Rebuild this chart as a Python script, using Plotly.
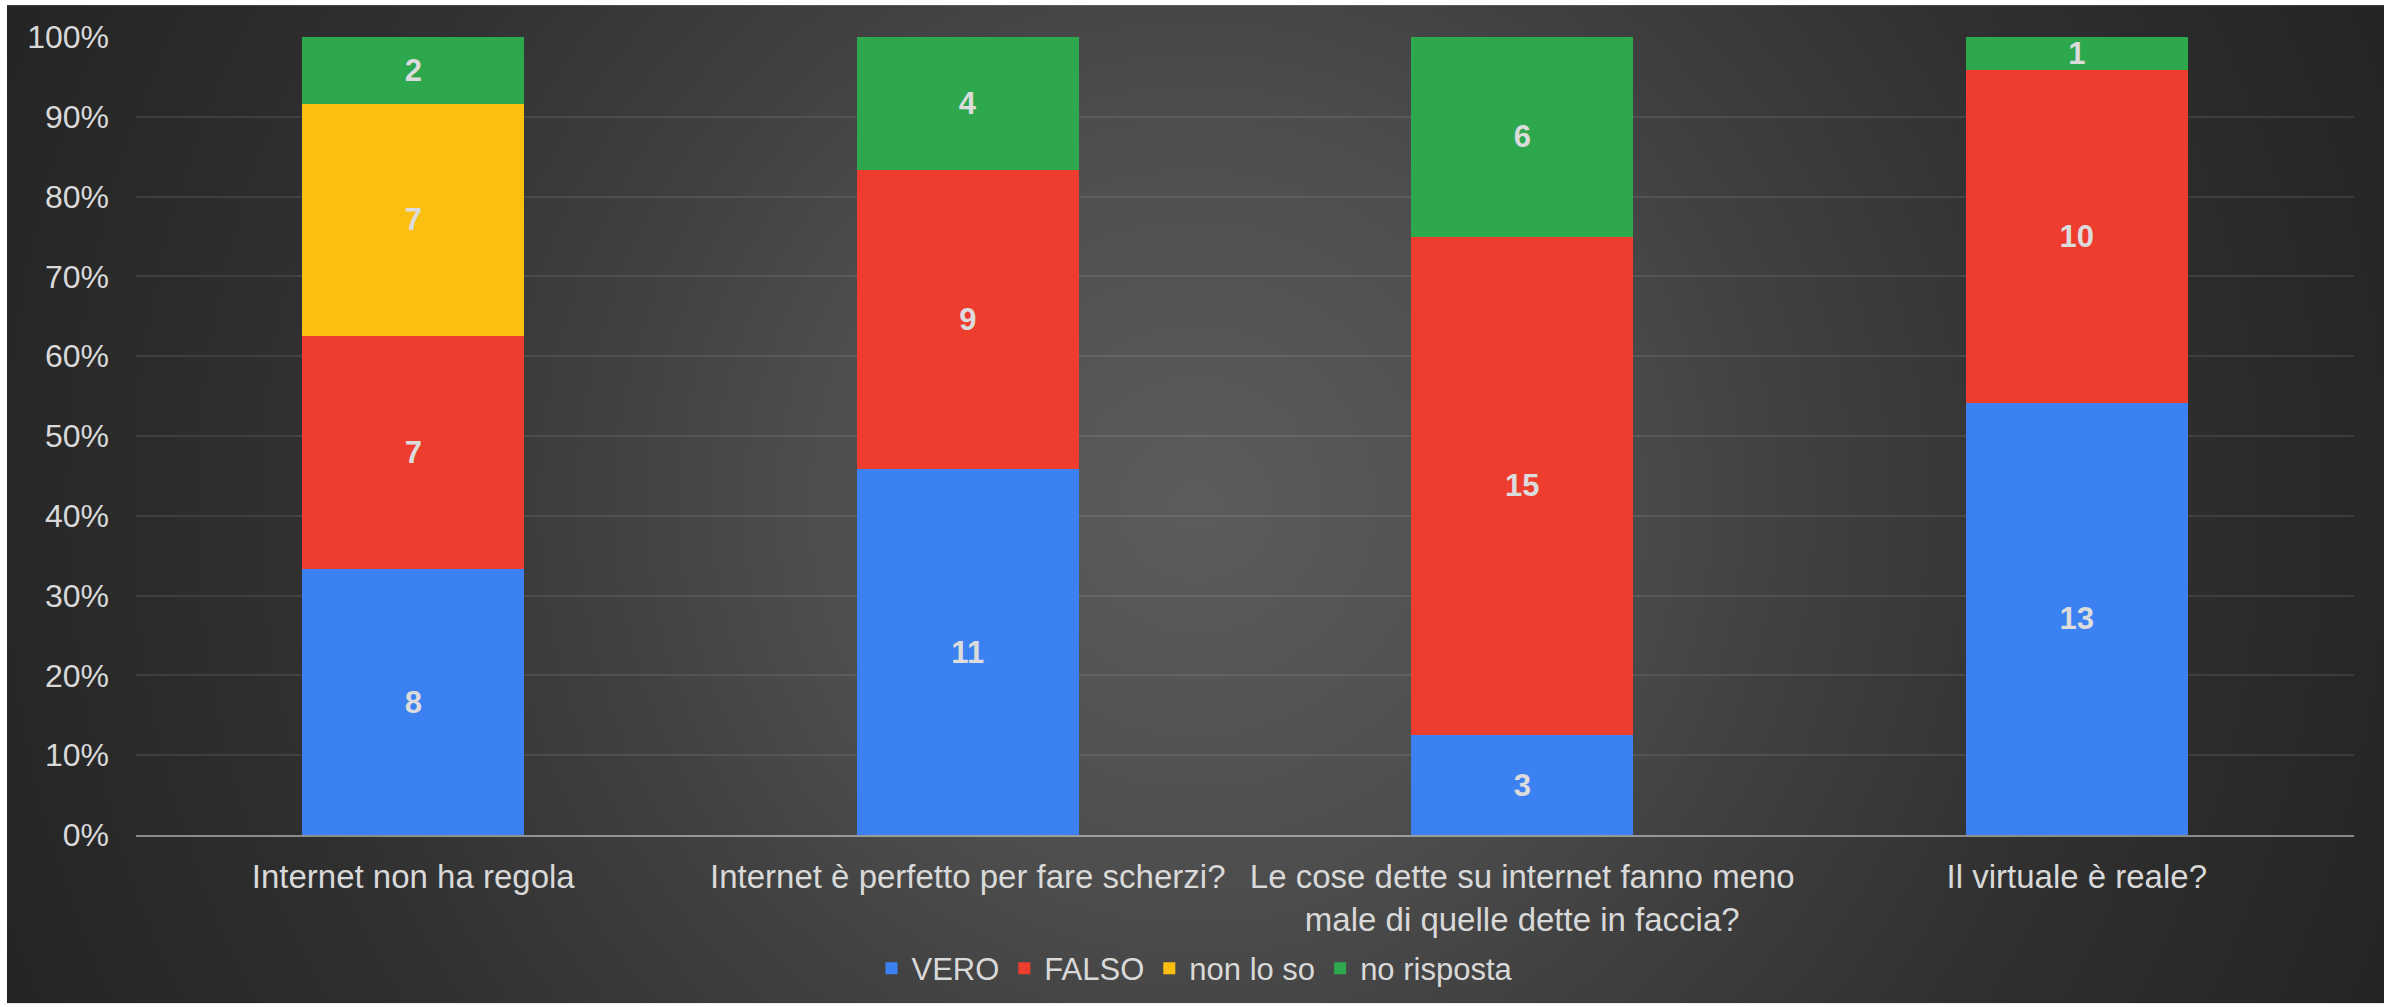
import base64
import plotly.graph_objects as go

categories = [
    "Internet non ha regola",
    "Internet è perfetto per fare scherzi?",
    "Le cose dette su internet fanno meno<br>male di quelle dette in faccia?",
    "Il virtuale è reale?",
]
vero = [8, 11, 3, 13]
falso = [7, 9, 15, 10]
non_lo_so = [7, 0, 0, 0]
no_risposta = [2, 4, 6, 1]

series = [
    ("VERO", vero, "#3b81f2"),
    ("FALSO", falso, "#ee3d2f"),
    ("non lo so", non_lo_so, "#fbbf12"),
    ("no risposta", no_risposta, "#2ea84d"),
]

W, H = 2397, 1007
ML, MR, MT, MB = 136, 43, 37, 169
PW, PH = W - ML - MR, H - MT - MB
# dark panel
PX0, PY0, PX1, PY1 = 7, 5, 2384, 1007
pw, ph = PX1 - PX0, PY1 - PY0

svg = f'''<svg xmlns="http://www.w3.org/2000/svg" width="{pw}" height="{ph}" viewBox="0 0 {pw} {ph}" preserveAspectRatio="none">
<defs><radialGradient id="g" gradientUnits="userSpaceOnUse" cx="{pw*0.5}" cy="{ph*0.5}" r="1290">
<stop offset="0" stop-color="#5c5c5c"/>
<stop offset="0.3" stop-color="#4d4d4d"/>
<stop offset="0.45" stop-color="#414141"/>
<stop offset="0.7" stop-color="#303030"/>
<stop offset="1" stop-color="#242424"/>
</radialGradient></defs>
<rect x="0" y="0" width="{pw}" height="{ph}" fill="url(#g)"/>
</svg>'''
src = "data:image/svg+xml;base64," + base64.b64encode(svg.encode()).decode()

fig = go.Figure()
for name, vals, col in series:
    fig.add_trace(go.Bar(
        name=name,
        x=categories,
        y=vals,
        marker=dict(color=col, line=dict(width=0)),
        text=[str(v) if v else "" for v in vals],
        textposition="inside",
        insidetextanchor="middle",
        textangle=0,
        constraintext="none",
        textfont=dict(family="Liberation Sans, Arial, sans-serif", size=31, color="#dcdcdc", weight="bold"),
        hoverinfo="skip",
    ))

fig.update_layout(
    width=W, height=H, autosize=False,
    margin=dict(l=ML, r=MR, t=MT, b=MB, pad=0),
    barmode="stack", barnorm="percent", bargap=0.6,
    paper_bgcolor="white", plot_bgcolor="rgba(0,0,0,0)",
    font=dict(family="Liberation Sans, Arial, sans-serif", color="#d9d9d9"),
    images=[dict(
        source=src, xref="paper", yref="paper",
        x=(PX0 - ML) / PW, y=(H - MB - PY0) / PH,
        sizex=pw / PW, sizey=ph / PH,
        xanchor="left", yanchor="top", sizing="stretch", layer="below",
    )],
    showlegend=True,
    legend=dict(
        orientation="h", x=(1195 - ML) / PW, xanchor="center",
        y=(H - MB - 972) / PH, yanchor="middle",
        font=dict(size=31, color="#d9d9d9"), traceorder="normal",
        bgcolor="rgba(0,0,0,0)",
    ),
    xaxis=dict(
        showgrid=False, showline=True, linecolor="rgba(255,255,255,0.45)", linewidth=2,
        ticks="", tickfont=dict(size=33, color="#d9d9d9"), ticklabelstandoff=11,
        fixedrange=True,
    ),
    yaxis=dict(
        range=[0, 100], dtick=10, ticksuffix="%", showgrid=True,
        gridcolor="rgba(255,255,255,0.09)", gridwidth=2, zeroline=False, showline=False,
        tickfont=dict(size=32, color="#d9d9d9"), ticklabelstandoff=26, fixedrange=True,
    ),
)

fig.write_html("out.html")
